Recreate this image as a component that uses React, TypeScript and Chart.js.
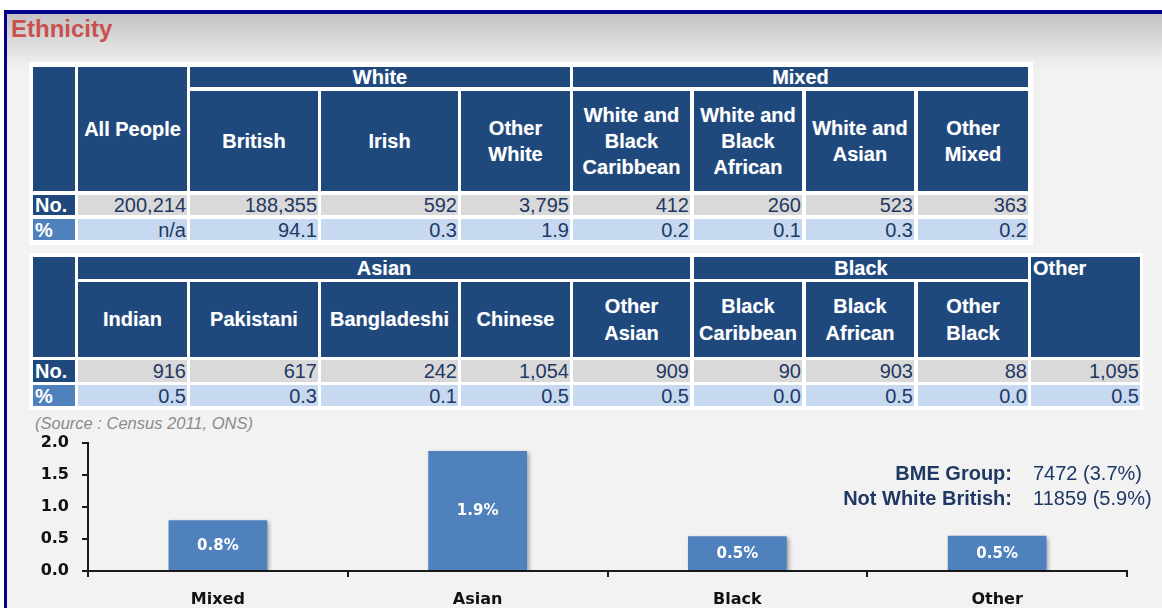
import React, { useEffect, useRef } from "react";
import { Chart, registerables } from "chart.js";

Chart.register(...registerables);

// ---------- data ----------
const title = "Ethnicity";
const sourceNote = "(Source : Census 2011, ONS)";

const t1Groups = ["White", "Mixed"];
const t1Heads = [
  "All People",
  "British",
  "Irish",
  "Other\nWhite",
  "White and\nBlack\nCaribbean",
  "White and\nBlack\nAfrican",
  "White and\nAsian",
  "Other\nMixed",
];
const t1No = ["200,214", "188,355", "592", "3,795", "412", "260", "523", "363"];
const t1Pct = ["n/a", "94.1", "0.3", "1.9", "0.2", "0.1", "0.3", "0.2"];

const t2Groups = ["Asian", "Black", "Other"];
const t2Heads = [
  "Indian",
  "Pakistani",
  "Bangladeshi",
  "Chinese",
  "Other\nAsian",
  "Black\nCaribbean",
  "Black\nAfrican",
  "Other\nBlack",
];
const t2No = ["916", "617", "242", "1,054", "909", "90", "903", "88", "1,095"];
const t2Pct = ["0.5", "0.3", "0.1", "0.5", "0.5", "0.0", "0.5", "0.0", "0.5"];

const rowLabels = ["No.", "%"];

const categories = ["Mixed", "Asian", "Black", "Other"];
const values = [0.79, 1.87, 0.54, 0.55];
const valueLabels = ["0.8%", "1.9%", "0.5%", "0.5%"];

const summaryLabels = ["BME Group:", "Not White British:"];
const summaryValues = ["7472 (3.7%)", "11859 (5.9%)"];

// ---------- layout ----------
const colX = [33, 78, 190, 321, 461, 573, 694, 806, 918, 1031];
const colW = [42, 109, 128, 137, 109, 117, 108, 108, 110, 109];
const HEAD = "#1f497d";
const PCTLAB = "#4f81bd";
const NOBG = "#d9d9d9";
const PCTBG = "#c6d9f1";
const DATA = "#1f3864";
const FONT = '"Liberation Sans", Arial, sans-serif';

type Box = {
  x: number;
  y: number;
  w: number;
  h: number;
  bg: string;
  children?: React.ReactNode;
  style?: React.CSSProperties;
};

function Cell({ x, y, w, h, bg, children, style }: Box) {
  return (
    <div
      style={{
        position: "absolute",
        left: x,
        top: y,
        width: w,
        height: h,
        background: bg,
        display: "flex",
        alignItems: "center",
        justifyContent: "center",
        textAlign: "center",
        whiteSpace: "pre-line",
        boxSizing: "border-box",
        overflow: "visible",
        ...style,
      }}
    >
      {children}
    </div>
  );
}

const headStyle: React.CSSProperties = {
  color: "#fff",
  fontWeight: "bold",
  fontSize: 20,
  lineHeight: "26px",
  fontFamily: FONT,
  textShadow: "0 0 1px rgba(255,255,255,0.35)",
};
const dataStyle: React.CSSProperties = {
  color: DATA,
  fontSize: 20,
  lineHeight: "20px",
  fontFamily: FONT,
  justifyContent: "flex-end",
  paddingRight: 1,
};
const labStyle: React.CSSProperties = {
  color: "#fff",
  fontWeight: "bold",
  fontSize: 20,
  lineHeight: "20px",
  fontFamily: FONT,
  justifyContent: "flex-start",
  paddingLeft: 2,
};

function span(a: number, b: number) {
  return { x: colX[a], w: colX[b] + colW[b] - colX[a] };
}

function Table1() {
  const g = 67, gh = 20, s = 91, sh = 100, n = 195, nh = 20, p = 219, ph = 21;
  const cells: React.ReactNode[] = [];
  cells.push(<Cell key="lab" x={colX[0]} y={g} w={colW[0]} h={s + sh - g} bg={HEAD} />);
  cells.push(
    <Cell key="all" x={colX[1]} y={g} w={colW[1]} h={s + sh - g} bg={HEAD} style={headStyle}>
      {t1Heads[0]}
    </Cell>
  );
  const w1 = span(2, 4);
  const w2 = span(5, 8);
  cells.push(
    <Cell key="g0" x={w1.x} y={g} w={w1.w} h={gh} bg={HEAD} style={{ ...headStyle, lineHeight: "20px" }}>
      {t1Groups[0]}
    </Cell>
  );
  cells.push(
    <Cell key="g1" x={w2.x} y={g} w={w2.w} h={gh} bg={HEAD} style={{ ...headStyle, lineHeight: "20px" }}>
      {t1Groups[1]}
    </Cell>
  );
  for (let i = 1; i < t1Heads.length; i++) {
    cells.push(
      <Cell key={"h" + i} x={colX[i + 1]} y={s} w={colW[i + 1]} h={sh} bg={HEAD} style={headStyle}>
        {t1Heads[i]}
      </Cell>
    );
  }
  cells.push(
    <Cell key="ln" x={colX[0]} y={n} w={colW[0]} h={nh} bg={HEAD} style={labStyle}>
      {rowLabels[0]}
    </Cell>
  );
  cells.push(
    <Cell key="lp" x={colX[0]} y={p} w={colW[0]} h={ph} bg={PCTLAB} style={labStyle}>
      {rowLabels[1]}
    </Cell>
  );
  t1No.forEach((v, i) =>
    cells.push(
      <Cell key={"n" + i} x={colX[i + 1]} y={n} w={colW[i + 1]} h={nh} bg={NOBG} style={dataStyle}>
        {v}
      </Cell>
    )
  );
  t1Pct.forEach((v, i) =>
    cells.push(
      <Cell key={"p" + i} x={colX[i + 1]} y={p} w={colW[i + 1]} h={ph} bg={PCTBG} style={dataStyle}>
        {v}
      </Cell>
    )
  );
  return (
    <>
      <div style={{ position: "absolute", left: 29, top: 62, width: 1004, height: 183, background: "#fff" }} />
      {cells}
    </>
  );
}

function Table2() {
  const g = 257, gh = 22, s = 282, sh = 75, n = 360, nh = 22, p = 385, ph = 21;
  const cells: React.ReactNode[] = [];
  cells.push(<Cell key="lab" x={colX[0]} y={g} w={colW[0]} h={s + sh - g} bg={HEAD} />);
  const a = span(1, 5);
  const b = span(6, 8);
  cells.push(
    <Cell key="g0" x={a.x} y={g} w={a.w} h={gh} bg={HEAD} style={{ ...headStyle, lineHeight: "22px" }}>
      {t2Groups[0]}
    </Cell>
  );
  cells.push(
    <Cell key="g1" x={b.x} y={g} w={b.w} h={gh} bg={HEAD} style={{ ...headStyle, lineHeight: "22px" }}>
      {t2Groups[1]}
    </Cell>
  );
  cells.push(
    <Cell
      key="g2"
      x={colX[9]}
      y={g}
      w={colW[9]}
      h={s + sh - g}
      bg={HEAD}
      style={{ ...headStyle, lineHeight: "22px", alignItems: "flex-start", justifyContent: "flex-start", paddingLeft: 2 }}
    >
      {t2Groups[2]}
    </Cell>
  );
  t2Heads.forEach((h, i) =>
    cells.push(
      <Cell key={"h" + i} x={colX[i + 1]} y={s} w={colW[i + 1]} h={sh} bg={HEAD} style={{ ...headStyle, lineHeight: "27px" }}>
        {h}
      </Cell>
    )
  );
  cells.push(
    <Cell key="ln" x={colX[0]} y={n} w={colW[0]} h={nh} bg={HEAD} style={labStyle}>
      {rowLabels[0]}
    </Cell>
  );
  cells.push(
    <Cell key="lp" x={colX[0]} y={p} w={colW[0]} h={ph} bg={PCTLAB} style={labStyle}>
      {rowLabels[1]}
    </Cell>
  );
  t2No.forEach((v, i) =>
    cells.push(
      <Cell key={"n" + i} x={colX[i + 1]} y={n} w={colW[i + 1]} h={nh} bg={NOBG} style={dataStyle}>
        {v}
      </Cell>
    )
  );
  t2Pct.forEach((v, i) =>
    cells.push(
      <Cell key={"p" + i} x={colX[i + 1]} y={p} w={colW[i + 1]} h={ph} bg={PCTBG} style={dataStyle}>
        {v}
      </Cell>
    )
  );
  return (
    <>
      <div style={{ position: "absolute", left: 29, top: 253, width: 1114, height: 157, background: "#fff" }} />
      {cells}
    </>
  );
}

const barPlugin = {
  id: "barDeco",
  beforeDatasetsDraw(chart: any) {
    const ctx = chart.ctx;
    ctx.save();
    ctx.shadowColor = "rgba(0,0,0,0.35)";
    ctx.shadowBlur = 4;
    ctx.shadowOffsetX = 2;
    ctx.shadowOffsetY = 2;
  },
  afterDatasetsDraw(chart: any) {
    const ctx = chart.ctx;
    ctx.restore();
    const meta = chart.getDatasetMeta(0);
    ctx.save();
    ctx.fillStyle = "#ffffff";
    ctx.font = 'bold 15px "DejaVu Sans", sans-serif';
    ctx.textAlign = "center";
    ctx.textBaseline = "middle";
    meta.data.forEach((el: any, i: number) => {
      const { x, y, base } = el.getProps(["x", "y", "base"], true);
      ctx.fillText(valueLabels[i], x, (y + base) / 2 + 1);
    });
    ctx.restore();
  },
};

const CANVAS_TOP = 420;
const CANVAS_H = 188;

function BarChart() {
  const ref = useRef<HTMLCanvasElement | null>(null);
  useEffect(() => {
    if (!ref.current) return;
    const axisColor = "#1a1a1a";
    const chart = new Chart(ref.current, {
      type: "bar",
      data: {
        labels: categories,
        datasets: [
          {
            data: values,
            backgroundColor: "#4f81bd",
            borderWidth: 0,
            barPercentage: 0.38,
            categoryPercentage: 1,
          },
        ],
      },
      options: {
        animation: false,
        responsive: false,
        maintainAspectRatio: false,
        layout: { padding: { left: 0, right: 35, top: 16, bottom: 0 } },
        plugins: { legend: { display: false }, tooltip: { enabled: false }, title: { display: false } },
        scales: {
          x: {
            afterFit: (s: any) => {
              s.height = 37;
            },
            grid: {
              offset: true,
              drawOnChartArea: false,
              drawTicks: true,
              tickLength: 6,
              color: axisColor,
              lineWidth: 2,
            },
            border: { display: true, color: axisColor, width: 2 },
            ticks: {
              color: "#111",
              padding: 13,
              font: { family: '"DejaVu Sans", sans-serif', size: 16, weight: "bold" },
            },
          },
          y: {
            min: 0,
            max: 2,
            afterFit: (s: any) => {
              s.width = 88;
            },
            grid: {
              drawOnChartArea: false,
              drawTicks: true,
              tickLength: 6,
              color: axisColor,
              lineWidth: 2,
            },
            border: { display: true, color: axisColor, width: 2 },
            ticks: {
              stepSize: 0.5,
              color: "#111",
              padding: 13,
              callback: (v: any) => Number(v).toFixed(1),
              font: { family: '"DejaVu Sans", sans-serif', size: 16, weight: "bold" },
            },
          },
        },
      },
      plugins: [barPlugin],
    });
    return () => chart.destroy();
  }, []);
  return (
    <canvas
      ref={ref}
      width={1162}
      height={CANVAS_H}
      style={{ position: "absolute", left: 0, top: CANVAS_TOP, width: 1162, height: CANVAS_H }}
    />
  );
}

export default function App() {
  return (
    <div
      style={{
        position: "absolute",
        left: 0,
        top: 0,
        width: 1162,
        height: 608,
        overflow: "hidden",
        background: "#ffffff",
        fontFamily: FONT,
      }}
    >
      <div
        style={{
          position: "absolute",
          left: 4,
          top: 10,
          width: 1170,
          height: 620,
          borderLeft: "3px solid #00008b",
          borderTop: "4px solid #00008b",
          background: "linear-gradient(to bottom, #c2c2c2 0px, #ebebeb 46px, #f2f2f2 60px, #f2f2f2 100%)",
        }}
      />
      <div
        style={{
          position: "absolute",
          left: 11,
          top: 17,
          fontSize: 24,
          lineHeight: "24px",
          fontWeight: "bold",
          color: "#c9504f",
          fontFamily: FONT,
        }}
      >
        {title}
      </div>
      <Table1 />
      <Table2 />
      <div
        style={{
          position: "absolute",
          left: 35,
          top: 413,
          fontSize: 16.5,
          lineHeight: "20px",
          fontStyle: "italic",
          color: "#8c8a88",
          fontFamily: FONT,
          whiteSpace: "nowrap",
        }}
      >
        {sourceNote}
      </div>
      <BarChart />
      <div
        style={{
          position: "absolute",
          right: 1162 - 1012,
          top: 461,
          fontSize: 20,
          lineHeight: "25px",
          fontWeight: "bold",
          color: DATA,
          textAlign: "right",
          whiteSpace: "nowrap",
          fontFamily: FONT,
        }}
      >
        {summaryLabels.map((s) => (
          <div key={s}>{s}</div>
        ))}
      </div>
      <div
        style={{
          position: "absolute",
          left: 1033,
          top: 461,
          fontSize: 20,
          lineHeight: "25px",
          color: DATA,
          whiteSpace: "nowrap",
          fontFamily: FONT,
        }}
      >
        {summaryValues.map((s) => (
          <div key={s}>{s}</div>
        ))}
      </div>
    </div>
  );
}
